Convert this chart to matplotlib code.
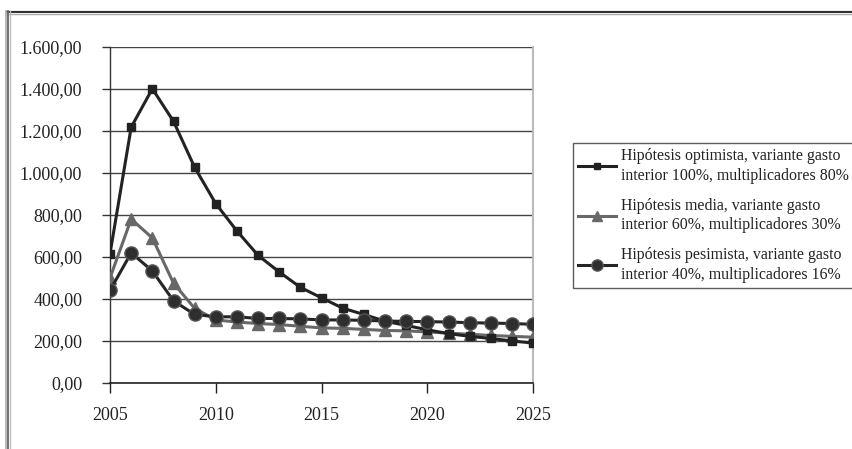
import matplotlib
matplotlib.use("Agg")
import matplotlib.pyplot as plt
from matplotlib.ticker import FuncFormatter, MultipleLocator
from matplotlib.lines import Line2D

years = list(range(2005, 2026))

optimista = [616, 1217, 1400, 1245, 1026, 853, 723, 607, 528, 455, 405,
             356, 326, 294, 274, 253, 235, 222, 212, 200, 190]
media = [500, 780, 690, 475, 355, 300, 290, 283, 278, 270, 262,
         260, 255, 250, 248, 243, 237, 232, 226, 222, 218]
pesimista = [441, 619, 533, 391, 326, 315, 315, 307, 307, 305, 300,
             300, 298, 295, 293, 292, 290, 287, 285, 283, 279]

labels = [
    "Hipótesis optimista, variante gasto\ninterior 100%, multiplicadores 80%",
    "Hipótesis media, variante gasto\ninterior 60%, multiplicadores 30%",
    "Hipótesis pesimista, variante gasto\ninterior 40%, multiplicadores 16%",
]

plt.rcParams["font.family"] = ["Liberation Serif", "DejaVu Serif"]

fig = plt.figure(figsize=(8.53, 4.49), dpi=100)
ax = fig.add_axes([0.129, 0.147, 0.496, 0.749])

ax.plot(years, optimista, color="#222222", lw=2.2, marker="s", ms=5.5,
        mfc="#222222", mec="#222222", zorder=4, label=labels[0])
ax.plot(years, media, color="#686868", lw=2.2, marker="^", ms=9,
        mfc="#686868", mec="#686868", zorder=3, label=labels[1])
ax.plot(years, pesimista, color="#252525", lw=2.2, marker="o", ms=9.5,
        mfc="#2e2e2e", mec="#555555", mew=1.0, zorder=5, label=labels[2])

ax.set_xlim(2005, 2025)
ax.set_ylim(0, 1600)
ax.yaxis.set_major_locator(MultipleLocator(200))
ax.xaxis.set_major_locator(MultipleLocator(5))


def es_fmt(v, pos):
    s = f"{v:,.2f}"
    return s.replace(",", "X").replace(".", ",").replace("X", ".")


ax.yaxis.set_major_formatter(FuncFormatter(es_fmt))
ax.xaxis.set_major_formatter(FuncFormatter(lambda v, p: f"{int(v)}"))

ax.grid(axis="y", color="#444444", lw=1.0)
ax.set_axisbelow(True)
ax.spines["top"].set_visible(False)
ax.spines["right"].set_color("#bbbbbb")
ax.spines["right"].set_linewidth(1.5)
ax.spines["left"].set_color("#333333")
ax.spines["bottom"].set_color("#222222")
ax.spines["left"].set_linewidth(1.0)
ax.spines["bottom"].set_linewidth(1.2)

ax.tick_params(axis="y", direction="out", length=6, width=1, color="#333333",
               pad=14, labelsize=13, labelcolor="#222222")
ax.tick_params(axis="x", direction="out", length=7, width=1, color="#222222",
               pad=10, labelsize=13, labelcolor="#222222")

leg = fig.legend(loc="upper left", bbox_to_anchor=(572.5 / 853, 1 - 142.5 / 449),
                 frameon=True, fancybox=False, fontsize=11.4, handlelength=2.4,
                 handletextpad=0.3, borderpad=0.35, labelspacing=0.88,
                 borderaxespad=0)
leg.get_frame().set_edgecolor("#333333")
leg.get_frame().set_linewidth(1.0)
for t in leg.get_texts():
    t.set_linespacing(1.3)
    t.set_color("#222222")
for h in leg.legend_handles:
    h.set_markersize(h.get_markersize() * 0.85)

# double frame lines along the top and left edges
for y, c, w in [(1 - 10.5 / 449, "#aaaaaa", 1.0), (1 - 12 / 449, "#222222", 1.3),
                (1 - 13.8 / 449, "#aaaaaa", 1.0)]:
    fig.add_artist(Line2D([7 / 853, 1], [y, y], transform=fig.transFigure,
                          color=c, lw=w))
for x, c, w in [(6.5 / 853, "#aaaaaa", 1.2), (8.3 / 853, "#666666", 1.3),
                (10 / 853, "#bbbbbb", 1.0)]:
    fig.add_artist(Line2D([x, x], [0, 1 - 11 / 449], transform=fig.transFigure,
                          color=c, lw=w))

fig.savefig("out.png", dpi=100)
